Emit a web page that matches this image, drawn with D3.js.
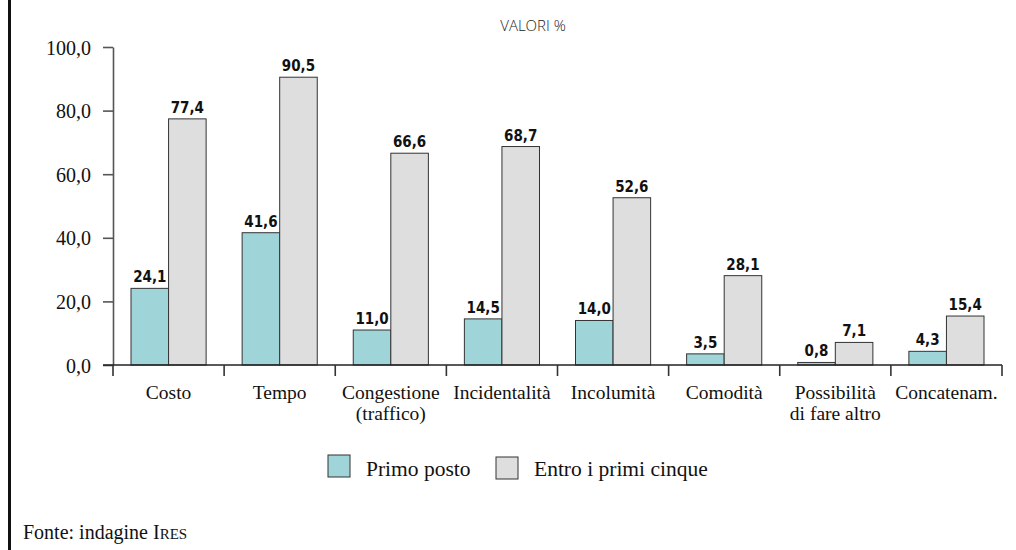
<!DOCTYPE html>
<html>
<head>
<meta charset="utf-8">
<script src="https://cdn.jsdelivr.net/npm/d3@7"></script>
<style>
  html, body { margin: 0; padding: 0; background: #fff; }
  svg { display: block; }
</style>
</head>
<body>
<svg id="chart" width="1016" height="550"></svg>
<script>
// Motivazioni nella scelta del mezzo: valori percentuali
const categories = [
  ["Costo"],
  ["Tempo"],
  ["Congestione", "(traffico)"],
  ["Incidentalità"],
  ["Incolumità"],
  ["Comodità"],
  ["Possibilità", "di fare altro"],
  ["Concatenam."]
];
const seriesNames = ["Primo posto", "Entro i primi cinque"];
const primoPosto = [24.1, 41.6, 11.0, 14.5, 14.0, 3.5, 0.8, 4.3];
const entroPrimiCinque = [77.4, 90.5, 66.6, 68.7, 52.6, 28.1, 7.1, 15.4];
const yTicks = [0, 20, 40, 60, 80, 100];

const colors = ["#9fd4d9", "#dedede"];
const fmt = v => d3.format(".1f")(v).replace(".", ",");

const svg = d3.select("#chart");

// left frame rule
svg.append("rect").attr("x", 8).attr("y", 0).attr("width", 3).attr("height", 550).attr("fill", "#111");

// subtitle
svg.append("text")
  .attr("x", 533).attr("y", 31)
  .attr("text-anchor", "middle")
  .attr("font-family", "'Open Sans', sans-serif")
  .attr("font-weight", 300)
  .attr("font-size", 15)
  .attr("fill", "#222")
  .text("VALORI %");

const x0 = d3.scaleBand().domain(d3.range(categories.length)).range([113, 1002]).padding(0);
const x1 = d3.scaleBand().domain([0, 1]).range([18, x0.bandwidth() - 18]).padding(0);
const y = d3.scaleLinear().domain([0, 100]).range([365, 47]);

// y axis
const yAxis = svg.append("g")
  .attr("transform", "translate(113,0)")
  .call(d3.axisLeft(y).tickValues(yTicks).tickSize(10).tickSizeOuter(0).tickFormat(fmt));
yAxis.select(".domain").attr("stroke", "#555").attr("stroke-width", 1.6);
yAxis.selectAll(".tick line").attr("stroke", "#555").attr("stroke-width", 1.6);
yAxis.selectAll(".tick text")
  .attr("x", -22)
  .attr("dy", "0.35em")
  .attr("font-family", "'Liberation Serif', serif")
  .attr("font-size", 20)
  .attr("fill", "#111");

// bars
const groups = svg.append("g").selectAll("g")
  .data(categories.map((c, i) => ({ i, values: [primoPosto[i], entroPrimiCinque[i]] })))
  .join("g")
  .attr("transform", d => `translate(${x0(d.i)},0)`);

groups.selectAll("rect")
  .data(d => d.values.map((v, s) => ({ v, s })))
  .join("rect")
  .attr("x", d => x1(d.s))
  .attr("y", d => y(d.v))
  .attr("width", x1.bandwidth())
  .attr("height", d => y(0) - y(d.v))
  .attr("fill", d => colors[d.s])
  .attr("stroke", "#333")
  .attr("stroke-width", 1);

groups.selectAll("text.val")
  .data(d => d.values.map((v, s) => ({ v, s })))
  .join("text")
  .attr("class", "val")
  .attr("x", d => x1(d.s) + x1.bandwidth() / 2)
  .attr("y", d => y(d.v) - 6)
  .attr("text-anchor", "middle")
  .attr("font-family", "'DejaVu Sans Condensed', 'DejaVu Sans', sans-serif")
  .attr("font-weight", "bold")
  .attr("font-size", 15)
  .attr("fill", "#111")
  .text(d => fmt(d.v));

// x axis
const xAxis = svg.append("g").attr("transform", `translate(0,${y(0)})`);
xAxis.append("line")
  .attr("x1", 103).attr("x2", 1002)
  .attr("stroke", "#222").attr("stroke-width", 1.6);
xAxis.selectAll("line.tick")
  .data(d3.range(categories.length + 1))
  .join("line")
  .attr("class", "tick")
  .attr("x1", i => i < categories.length ? x0(i) : x0.range()[1])
  .attr("x2", i => i < categories.length ? x0(i) : x0.range()[1])
  .attr("y1", 0).attr("y2", 11)
  .attr("stroke", "#333").attr("stroke-width", 1.6);

const catLabels = xAxis.selectAll("text")
  .data(categories)
  .join("text")
  .attr("text-anchor", "middle")
  .attr("font-family", "'Liberation Serif', serif")
  .attr("font-size", 19.5)
  .attr("fill", "#111")
  .attr("transform", (d, i) => `translate(${x0(i) + x0.bandwidth() / 2},34)`);
catLabels.selectAll("tspan")
  .data(d => d)
  .join("tspan")
  .attr("x", 0)
  .attr("y", (d, k) => k * 21)
  .text(d => d);

// legend
const legendX = [328, 496];
const legend = svg.append("g").selectAll("g")
  .data(seriesNames)
  .join("g")
  .attr("transform", (d, i) => `translate(${legendX[i]},${455 + i * 2})`);
legend.append("rect")
  .attr("width", 22).attr("height", 22)
  .attr("fill", (d, i) => colors[i])
  .attr("stroke", "#333").attr("stroke-width", 1);
legend.append("text")
  .attr("x", 38).attr("y", (d, i) => 21 - i * 2)
  .attr("font-family", "'Liberation Serif', serif")
  .attr("font-size", 21.5)
  .attr("fill", "#111")
  .text(d => d);

// source note
const src = svg.append("text")
  .attr("x", 23).attr("y", 539)
  .attr("font-family", "'Liberation Serif', serif")
  .attr("font-size", 20)
  .attr("fill", "#111");
src.append("tspan").text("Fonte: indagine I");
src.append("tspan").attr("font-size", 15).text("RES");
</script>
</body>
</html>
